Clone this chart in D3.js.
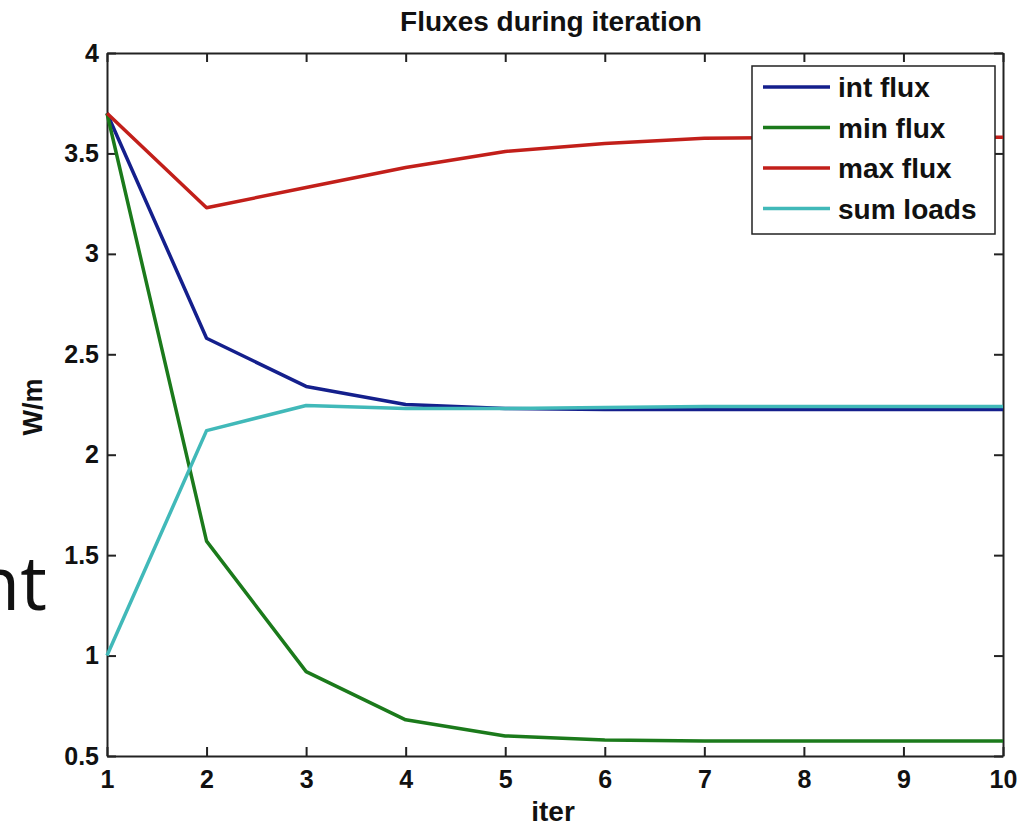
<!DOCTYPE html>
<html>
<head>
<meta charset="utf-8">
<script src="https://cdn.jsdelivr.net/npm/d3@7"></script>
<style>
  body { margin: 0; background: #fff; }
  svg { display: block; }
</style>
</head>
<body>
<div class="chart"></div>
<script>
// data
var iters = [1, 2, 3, 4, 5, 6, 7, 8, 9, 10];
var intFlux = [3.70, 2.58, 2.34, 2.25, 2.23, 2.225, 2.225, 2.225, 2.225, 2.225];
var minFlux = [3.70, 1.57, 0.92, 0.68, 0.60, 0.58, 0.575, 0.575, 0.575, 0.575];
var maxFlux = [3.70, 3.23, 3.33, 3.43, 3.51, 3.55, 3.575, 3.58, 3.58, 3.58];
var sumLoads = [1.00, 2.12, 2.245, 2.23, 2.23, 2.235, 2.24, 2.24, 2.24, 2.24];
var seriesNames = ["int flux", "min flux", "max flux", "sum loads"];
var xTicks = [1, 2, 3, 4, 5, 6, 7, 8, 9, 10];
var yTicks = [0.5, 1, 1.5, 2, 2.5, 3, 3.5, 4];

var svgWidth = 1027;
var svgHeight = 827;
var margin = {top: 53, right: 24, bottom: 71, left: 107};
var width = svgWidth - margin.left - margin.right;
var height = svgHeight - margin.top - margin.bottom;

var colors = ["#141f8c", "#1b7a1b", "#c21f1a", "#41b9b9"];
var allSeries = [intFlux, minFlux, maxFlux, sumLoads];
var font = "'Liberation Sans', Arial, sans-serif";

var svg = d3.select(".chart")
  .append("svg")
  .attr("width", svgWidth)
  .attr("height", svgHeight);

// stray slide text at the left edge
svg.append("text")
  .attr("x", 47)
  .attr("y", 610)
  .attr("text-anchor", "end")
  .style("font-family", "'Open Sans', sans-serif")
  .style("font-size", "75px")
  .style("fill", "#111")
  .text("nt");

var chart = svg.append("g")
  .attr("transform", "translate(" + margin.left + "," + margin.top + ")");

var x = d3.scaleLinear().domain([1, 10]).range([0, width]);
var y = d3.scaleLinear().domain([0.5, 4]).range([height, 0]);

var tickLen = 9;

// axes, ticks pointing inward like matlab
var bottomAxis = d3.axisBottom(x).tickValues(xTicks).tickSizeInner(-tickLen).tickSizeOuter(0).tickPadding(14).tickFormat(d3.format("d"));
var topAxis = d3.axisTop(x).tickValues(xTicks).tickSizeInner(-tickLen).tickSizeOuter(0).tickFormat("");
var leftAxis = d3.axisLeft(y).tickValues(yTicks).tickSizeInner(-tickLen).tickSizeOuter(0).tickPadding(8).tickFormat(d3.format("~g"));
var rightAxis = d3.axisRight(y).tickValues(yTicks).tickSizeInner(-tickLen).tickSizeOuter(0).tickFormat("");

function styleAxis(g) {
  g.select(".domain").attr("stroke", "#222").attr("stroke-width", 2);
  g.selectAll(".tick line").attr("stroke", "#222").attr("stroke-width", 2);
  g.selectAll(".tick text")
    .style("font-family", font)
    .style("font-weight", "bold")
    .style("font-size", "25px")
    .style("fill", "#111");
}

chart.append("g").attr("transform", "translate(0," + height + ")").call(bottomAxis).call(styleAxis);
chart.append("g").call(topAxis).call(styleAxis);
chart.append("g").call(leftAxis).call(styleAxis);
chart.append("g").attr("transform", "translate(" + width + ",0)").call(rightAxis).call(styleAxis);

// lines
var line = d3.line()
  .x(function(d, i) { return x(iters[i]); })
  .y(function(d) { return y(d); });

allSeries.forEach(function(s, k) {
  chart.append("path")
    .datum(s)
    .attr("d", line)
    .attr("fill", "none")
    .attr("stroke", colors[k])
    .attr("stroke-width", 3.5)
    .attr("stroke-linejoin", "round");
});

// legend
var legend = chart.append("g").attr("transform", "translate(" + (752 - margin.left) + "," + (66 - margin.top) + ")");
legend.append("rect")
  .attr("width", 243)
  .attr("height", 168)
  .attr("fill", "#fff")
  .attr("stroke", "#222")
  .attr("stroke-width", 1.5);

seriesNames.forEach(function(name, k) {
  var ry = 21 + k * 40.5;
  legend.append("line")
    .attr("x1", 11).attr("x2", 78)
    .attr("y1", ry).attr("y2", ry)
    .attr("stroke", colors[k])
    .attr("stroke-width", 3.5);
  legend.append("text")
    .attr("x", 86)
    .attr("y", ry + 10)
    .style("font-family", font)
    .style("font-weight", "bold")
    .style("font-size", "28px")
    .style("fill", "#111")
    .text(name);
});

// title and axis labels
svg.append("text")
  .attr("x", 551)
  .attr("y", 31)
  .attr("text-anchor", "middle")
  .style("font-family", font)
  .style("font-weight", "bold")
  .style("font-size", "28px")
  .style("fill", "#111")
  .text("Fluxes during iteration");

svg.append("text")
  .attr("x", 553)
  .attr("y", 821)
  .attr("text-anchor", "middle")
  .style("font-family", font)
  .style("font-weight", "bold")
  .style("font-size", "28px")
  .style("fill", "#111")
  .text("iter");

svg.append("text")
  .attr("transform", "translate(42,407) rotate(-90)")
  .attr("text-anchor", "middle")
  .style("font-family", font)
  .style("font-weight", "bold")
  .style("font-size", "27px")
  .style("fill", "#111")
  .text("W/m");
</script>
</body>
</html>
